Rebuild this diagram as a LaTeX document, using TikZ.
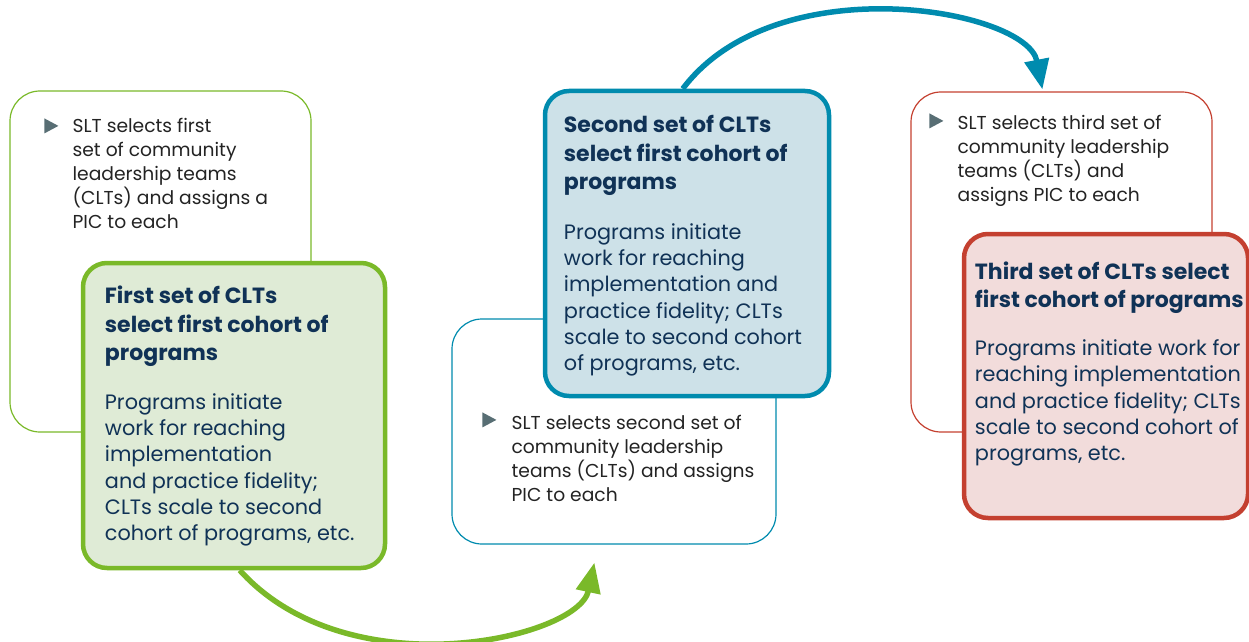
\documentclass[tikz,border=0pt]{standalone}
\usepackage{fontspec}
\setmainfont{Poppins}
\usetikzlibrary{arrows.meta}

\definecolor{leafgreen}{RGB}{122,185,41}
\definecolor{leaffill}{RGB}{223,235,214}
\definecolor{seablue}{RGB}{0,139,174}
\definecolor{seafill}{RGB}{205,225,232}
\definecolor{brickred}{RGB}{196,64,48}
\definecolor{brickfill}{RGB}{242,220,219}
\definecolor{navytext}{RGB}{16,50,86}
\definecolor{greytext}{RGB}{35,35,35}
\definecolor{bulletgrey}{RGB}{88,110,116}

\tikzset{
	outerbox/.style={draw, line width=1.2pt, rounded corners=30pt, inner sep=0pt},
	innerbox/.style={draw, line width=4.5pt, rounded corners=24pt, inner sep=0pt},
	steptext/.style={anchor=base west, inner sep=0pt, align=left, text=greytext, font=\fontsize{18.7}{24}\selectfont},
	headtext/.style={anchor=base west, inner sep=0pt, align=left, text=navytext, font=\fontsize{22}{28.5}\selectfont\bfseries},
	bodytext/.style={anchor=base west, inner sep=0pt, align=left, text=navytext, font=\fontsize{20.8}{26.3}\selectfont},
	bulletmark/.style={fill=bulletgrey},
	flow/.style={draw, line width=5.5pt, -{Triangle[length=30pt,width=24pt]}}
}

\begin{document}
\begin{tikzpicture}[x=1pt, y=1pt]
			\useasboundingbox (0,0) rectangle (1249,641);
			% first round
			\node[outerbox, draw=leafgreen, minimum width=301pt, minimum height=341pt] (slt1) at (160.5,379.5) {};
			\node[innerbox, draw=leafgreen, fill=leaffill, minimum width=302pt, minimum height=305pt] (clt1) at (234,225.5) {};
			\node[steptext] (pick1) at ([xshift=63pt,yshift=-138pt]slt1.north west) {SLT selects first\\set of community\\leadership teams\\(CLTs) and assigns a\\PIC to each};
			\fill[bulletmark] ([xshift=35pt,yshift=-28pt]slt1.north west) -- ++(0,-15) -- ++(14,7.5) -- cycle;
			\node[headtext] (head1) at ([xshift=24pt,yshift=-100pt]clt1.north west) {First set of CLTs\\select first cohort of\\programs};
			\node[bodytext] (work1) at ([xshift=24pt,yshift=-280pt]clt1.north west) {Programs initiate\\work for reaching\\implementation\\and practice fidelity;\\CLTs scale to second\\cohort of programs, etc.};
			% second round
			\node[outerbox, draw=seablue, minimum width=324pt, minimum height=225pt] (slt2) at (614,209.5) {};
			\node[innerbox, draw=seablue, fill=seafill, minimum width=284pt, minimum height=305pt] (clt2) at (687,397.5) {};
			\node[steptext] (pick2) at ([xshift=60pt,yshift=-183pt]slt2.north west) {SLT selects second set of\\community leadership\\teams (CLTs) and assigns\\PIC to each};
			\fill[bulletmark] ([xshift=31pt,yshift=-94pt]slt2.north west) -- ++(0,-15) -- ++(14,7.5) -- cycle;
			\node[headtext] (head2) at ([xshift=21pt,yshift=-101pt]clt2.north west) {Second set of CLTs\\select first cohort of\\programs};
			\node[bodytext] (work2) at ([xshift=21pt,yshift=-282pt]clt2.north west) {Programs initiate\\work for reaching\\implementation and\\practice fidelity; CLTs\\scale to second cohort\\of programs, etc.};
			% third round
			\node[outerbox, draw=brickred, minimum width=301pt, minimum height=340pt] (slt3) at (1061.5,379) {};
			\node[innerbox, draw=brickred, fill=brickfill, minimum width=284pt, minimum height=284pt] (clt3) at (1106,265) {};
			\node[steptext] (pick3) at ([xshift=47pt,yshift=-110pt]slt3.north west) {SLT selects third set of\\community leadership\\teams (CLTs) and\\assigns PIC to each};
			\fill[bulletmark] ([xshift=19pt,yshift=-22pt]slt3.north west) -- ++(0,-15) -- ++(14,7.5) -- cycle;
			\node[headtext] (head3) at ([xshift=13pt,yshift=-76pt]clt3.north west) {Third set of CLTs select\\first cohort of programs};
			\node[bodytext] (work3) at ([xshift=13pt,yshift=-229pt]clt3.north west) {Programs initiate work for\\reaching implementation\\and practice fidelity; CLTs\\scale to second cohort of\\programs, etc.};
			% hand-overs
			\path
			([xshift=159pt]clt1.south west) edge[flow, leafgreen, out=-48, in=-102, out distance=162pt, in distance=78pt] ([xshift=143pt,yshift=-18pt]slt2.south west)
			([xshift=140pt]clt2.north west) edge[flow, seablue, out=53, in=101, out distance=155pt, in distance=82pt] ([xshift=132pt,yshift=2pt]slt3.north west);
		\end{tikzpicture}
\end{document}
